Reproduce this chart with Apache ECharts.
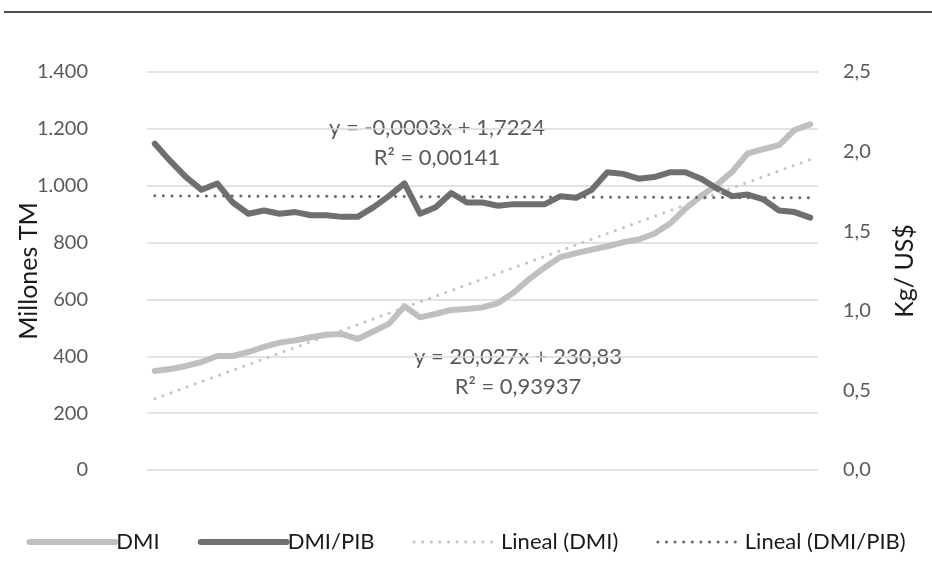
<!DOCTYPE html>
<html>
<head>
<meta charset="utf-8">
<script src="https://cdn.jsdelivr.net/npm/echarts@6/dist/echarts.min.js"></script>
<style>
  html, body { margin: 0; padding: 0; background: #fff; }
  #chart { width: 932px; height: 566px; }
</style>
</head>
<body>
<div id="chart"></div>
<script>
// Period index (no labels are shown on the horizontal axis)
const periods = [1, 2, 3, 4, 5, 6, 7, 8, 9, 10, 11, 12, 13, 14, 15, 16, 17, 18, 19, 20,
  21, 22, 23, 24, 25, 26, 27, 28, 29, 30, 31, 32, 33, 34, 35, 36, 37, 38, 39, 40, 41, 42, 43];

// DMI, millones TM (left axis)
const dmi = [348, 355, 366, 380, 401, 401, 415, 433, 448, 456, 467, 476, 478, 461, 487, 514,
  576, 537, 549, 563, 566, 572, 587, 624, 672, 713, 749, 763, 775, 787, 801, 811, 831, 866,
  919, 964, 1002, 1049, 1114, 1129, 1143, 1196, 1216];

// DMI/PIB, kg/US$ (right axis)
const dmiPib = [2.05, 1.94, 1.84, 1.76, 1.80, 1.68, 1.61, 1.63, 1.61, 1.62, 1.60, 1.60, 1.59,
  1.59, 1.65, 1.72, 1.80, 1.61, 1.65, 1.74, 1.68, 1.68, 1.66, 1.67, 1.67, 1.67, 1.72, 1.71,
  1.76, 1.87, 1.86, 1.83, 1.84, 1.87, 1.87, 1.83, 1.77, 1.72, 1.73, 1.70, 1.63, 1.62, 1.585];

// Linear trend coefficients [slope, intercept] and their equation labels
const dmiTrendCoef = [20.027, 230.83];
const pibTrendCoef = [-0.0003, 1.7224];
const dmiTrendText = ['y = 20,027x + 230,83', 'R² = 0,93937'];
const pibTrendText = ['y = -0,0003x + 1,7224', 'R² = 0,00141'];

// Axis tick values
const leftTicks = [0, 200, 400, 600, 800, 1000, 1200, 1400];
const rightTicks = [0, 0.5, 1, 1.5, 2, 2.5];

const seriesNames = ['DMI', 'DMI/PIB', 'Lineal (DMI)', 'Lineal (DMI/PIB)'];

const trend = (coef) => periods.map((p) => coef[0] * p + coef[1]);

const FONT = 'Lato, "Open Sans", sans-serif';
const LIGHT = '#bfbfbf';
const DARK = '#6f6f6f';

const chart = echarts.init(document.getElementById('chart'), null, { renderer: 'canvas' });

const fmtThousands = (v) => String(v).replace(/\B(?=(\d{3})+(?!\d))/g, '.');
const fmtDecimal = (v) => v.toFixed(1).replace('.', ',');

chart.setOption({
  animation: false,
  backgroundColor: '#ffffff',
  textStyle: { fontFamily: FONT },
  grid: { left: 147, right: 114, top: 72, bottom: 96, outerBoundsMode: 'none', containLabel: false },
  legend: {
    bottom: 8,
    left: 'center',
    itemWidth: 86,
    itemHeight: 10,
    itemGap: 38,
    data: seriesNames,
    itemStyle: { opacity: 0 },
    lineStyle: { width: 'inherit' },
    textStyle: { color: '#1a1a1a', fontSize: 22, fontFamily: FONT, padding: [0, 0, 0, -4] }
  },
  xAxis: {
    type: 'category',
    data: periods,
    boundaryGap: true,
    axisLine: { show: false },
    axisTick: { show: false },
    axisLabel: { show: false },
    splitLine: { show: false }
  },
  yAxis: [
    {
      type: 'value',
      min: leftTicks[0],
      max: leftTicks[leftTicks.length - 1],
      interval: 200,
      name: 'Millones TM',
      nameLocation: 'middle',
      nameRotate: 90,
      nameGap: 106,
      nameMoveOverlap: false,
      nameTextStyle: { color: '#1a1a1a', fontSize: 25, fontFamily: FONT },
      axisLine: { show: false },
      axisTick: { show: false },
      axisLabel: { color: '#595959', fontSize: 20, margin: 59, formatter: fmtThousands },
      splitLine: { show: true, lineStyle: { color: '#d9d9d9', width: 1.5 } }
    },
    {
      type: 'value',
      min: rightTicks[0],
      max: rightTicks[rightTicks.length - 1],
      interval: 0.5,
      name: 'Kg/ US$',
      nameLocation: 'middle',
      nameRotate: 90,
      nameGap: 74,
      nameMoveOverlap: false,
      nameTextStyle: { color: '#1a1a1a', fontSize: 25, fontFamily: FONT },
      axisLine: { show: false },
      axisTick: { show: false },
      axisLabel: { color: '#595959', fontSize: 20, margin: 25, formatter: fmtDecimal },
      splitLine: { show: false }
    }
  ],
  series: [
    {
      name: seriesNames[0],
      type: 'line',
      yAxisIndex: 0,
      data: dmi,
      symbol: 'none',
      color: LIGHT,
      lineStyle: { color: LIGHT, width: 6, cap: 'round', join: 'round' }
    },
    {
      name: seriesNames[1],
      type: 'line',
      yAxisIndex: 1,
      data: dmiPib,
      symbol: 'none',
      color: DARK,
      lineStyle: { color: DARK, width: 6, cap: 'round', join: 'round' }
    },
    {
      name: seriesNames[2],
      type: 'line',
      yAxisIndex: 0,
      data: trend(dmiTrendCoef),
      symbol: 'none',
      color: '#c4c4c4',
      lineStyle: { color: '#c4c4c4', width: 3, type: [0.1, 8.5], cap: 'round' }
    },
    {
      name: seriesNames[3],
      type: 'line',
      yAxisIndex: 1,
      data: trend(pibTrendCoef),
      symbol: 'none',
      color: '#6a6a6a',
      lineStyle: { color: '#6a6a6a', width: 3, type: [0.1, 8.5], cap: 'round' }
    }
  ],
  graphic: [
    {
      type: 'line',
      shape: { x1: 4, y1: 12, x2: 932, y2: 12 },
      style: { stroke: '#4d4d4d', lineWidth: 2 }
    },
    {
      type: 'text',
      x: 437, y: 143,
      style: {
        text: pibTrendText.join('\n'),
        align: 'center', verticalAlign: 'middle',
        fill: '#595959', font: '22px ' + FONT, lineHeight: 30
      }
    },
    {
      type: 'text',
      x: 518, y: 372,
      style: {
        text: dmiTrendText.join('\n'),
        align: 'center', verticalAlign: 'middle',
        fill: '#595959', font: '22px ' + FONT, lineHeight: 30
      }
    }
  ]
});
</script>
</body>
</html>
